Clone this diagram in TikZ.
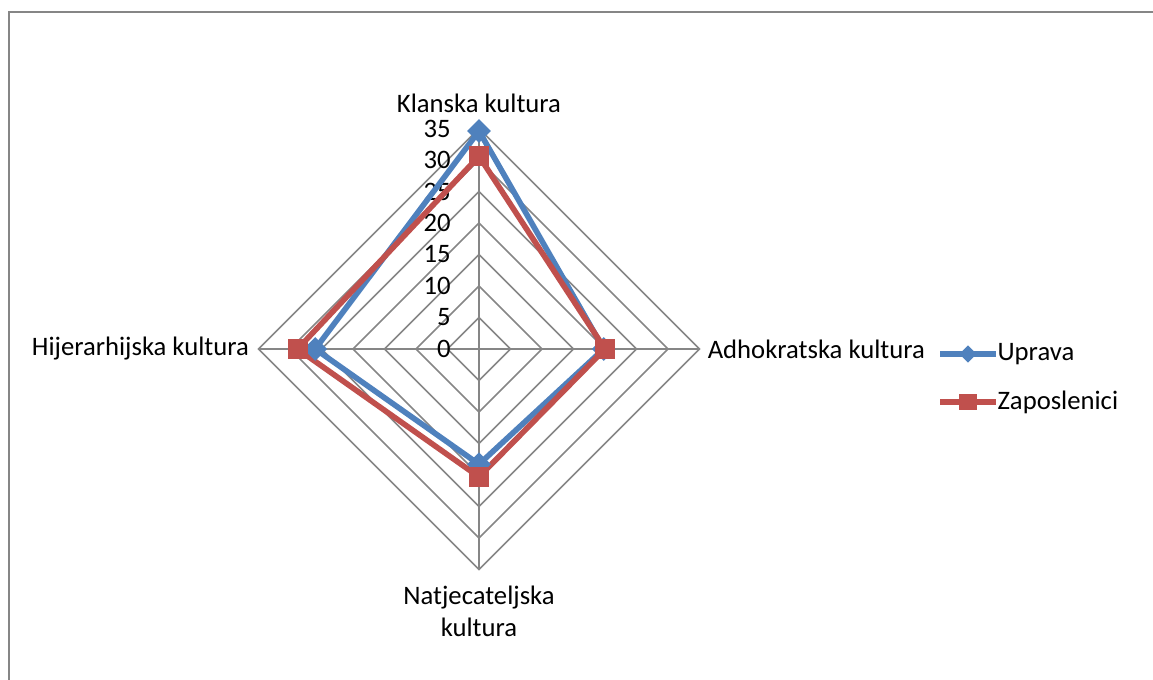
\documentclass[tikz,border=0pt]{standalone}
\usepackage{fontspec}
\setmainfont{Carlito}
\usepackage{tikz}
\usetikzlibrary{shapes,positioning}
\definecolor{upblue}{RGB}{79,129,189}
\definecolor{zapred}{RGB}{192,80,77}
\definecolor{gridgray}{RGB}{134,134,134}
\tikzstyle{gridline} = [draw=gridgray, line width=1.1pt]
\tikzstyle{series} = [line width=4.2pt, line join=miter]
\tikzstyle{bluemark} = [diamond, fill=upblue, inner sep=0pt, minimum width=18, minimum height=18]
\tikzstyle{redmark} = [rectangle, fill=zapred, inner sep=0pt, minimum width=15, minimum height=15]
\tikzstyle{axislabel} = [font=\fontsize{20}{24}\selectfont, inner sep=2pt]
\tikzstyle{ticklabel} = [font=\fontsize{20}{24}\selectfont, anchor=east, inner sep=0pt]

\begin{document}
\begin{tikzpicture}[x=0.75pt, y=-0.75pt]
\useasboundingbox (0,0) rectangle (1153,679);
\def\cx{479}
\def\cy{349}
\def\s{6.3}

% Chart frame
\draw[gridgray, line width=1.5pt] (8.5,700) -- (8.5,12) -- (1170,12);

% Grid rings
\foreach \r in {5,10,...,35}{
  \draw[gridline] ({\cx},{\cy-\r*\s}) -- ({\cx+\r*\s},{\cy}) -- ({\cx},{\cy+\r*\s}) -- ({\cx-\r*\s},{\cy}) -- cycle;
}

% Spokes
\coordinate (c) at (\cx,\cy);
\coordinate (top) at ({\cx},{\cy-35*\s});
\coordinate (right) at ({\cx+35*\s},{\cy});
\coordinate (bottom) at ({\cx},{\cy+35*\s});
\coordinate (left) at ({\cx-35*\s},{\cy});
\foreach \p in {top,right,bottom,left}
  \draw[gridline] (c) -- (\p);

% Tick labels
\foreach \v in {0,5,...,35}
  \node[ticklabel] (t\v) at ({\cx-28},{\cy-\v*\s}) {\v};

% Axis labels
\node[axislabel, above=10pt of top] (klan) {Klanska kultura};
\node[axislabel, right=4pt of right] (adho) {Adhokratska kultura};
\node[axislabel, below=10pt of bottom, align=center] (natj) {Natjecateljska\\kultura};
\node[axislabel, left=5pt of left] (hije) {Hijerarhijska kultura};

% Data points
\coordinate (u1) at ({\cx},{\cy-34.6*\s});
\coordinate (u2) at ({\cx+19.8*\s},{\cy});
\coordinate (u3) at ({\cx},{\cy+18.3*\s});
\coordinate (u4) at ({\cx-26.0*\s},{\cy});
\coordinate (z1) at ({\cx},{\cy-30.6*\s});
\coordinate (z2) at ({\cx+20.0*\s},{\cy});
\coordinate (z3) at ({\cx},{\cy+20.3*\s});
\coordinate (z4) at ({\cx-28.8*\s},{\cy});

% Series lines
\draw[series, upblue] (u1) -- (u2) -- (u3) -- (u4) -- cycle;
\draw[series, zapred] (z1) -- (z2) -- (z3) -- (z4) -- cycle;

% Markers
\foreach \i in {1,...,4}
  \node[bluemark] (um\i) at (u\i) {};
\foreach \i in {1,...,4}
  \node[redmark] (zm\i) at (z\i) {};

% Legend
\coordinate (lu1) at (940,354);
\coordinate (lu2) at (996,354);
\coordinate (lz1) at (940,402);
\coordinate (lz2) at (996,402);
\draw[series, upblue] (lu1) -- (lu2);
\node[bluemark, minimum width=13, minimum height=13] (lum) at (968,354) {};
\node[axislabel, anchor=west, inner sep=1pt] (uprava) at (lu2) {Uprava};
\draw[series, zapred] (lz1) -- (lz2);
\node[redmark, minimum width=13, minimum height=12] (lzm) at (968,402) {};
\node[axislabel, anchor=west, inner sep=1pt] (zapos) at (lz2) {Zaposlenici};

\end{tikzpicture}
\end{document}
